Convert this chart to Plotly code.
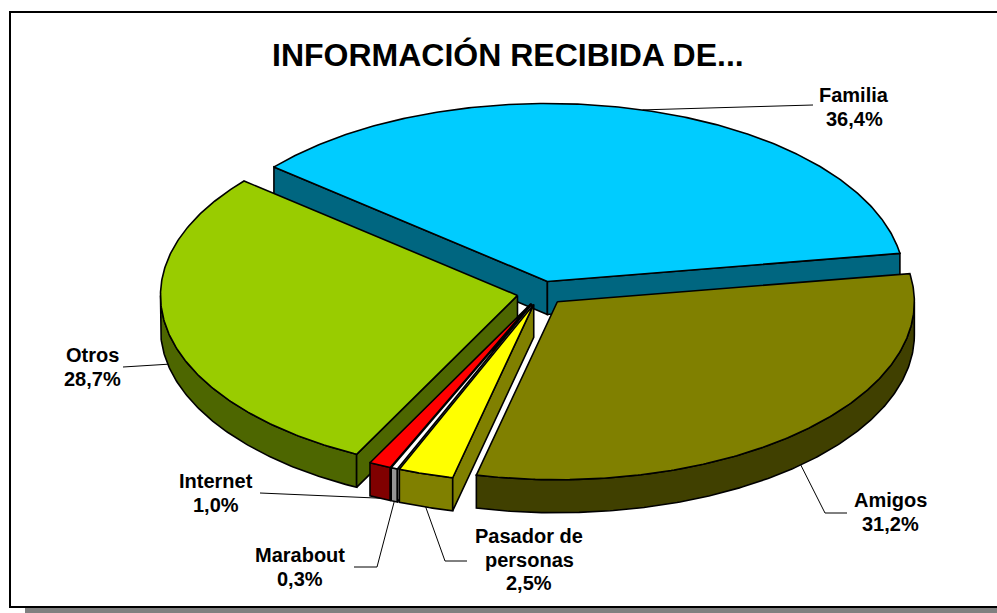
import numpy as np
import plotly.graph_objects as go

# ---------------- data ----------------
labels = ["Familia", "Amigos", "Pasador de personas", "Marabout", "Internet", "Otros"]
values = [36.4, 31.2, 2.5, 0.3, 1.0, 28.7]
label_lines = [["Familia", "36,4%"], ["Amigos", "31,2%"], ["Pasador de", "personas", "2,5%"],
               ["Marabout", "0,3%"], ["Internet", "1,0%"], ["Otros", "28,7%"]]
title_text = "INFORMACIÓN RECIBIDA DE..."

# ---------------- style / layout ----------------
top_colors = ["#00CCFF", "#808000", "#FFFF00", "#FFFFFF", "#FF0000", "#99CC00"]
side_colors = ["#006680", "#404000", "#808000", "#969696", "#800000", "#4D6600"]
draw_order = [0, 5, 4, 3, 2, 1]

W, H = 997, 613
CX, CY = 541, 293          # pie centre (pixels)
RX, RY = 357, 178          # ellipse radii of top face
DEPTH = 33                 # thickness of the pie
EXPLODE = 24               # explosion distance (horizontal pixels)
START = 310                # first slice angle, deg clockwise from 12 o'clock
K = RY / RX
LINE_STEP = 23.5

# label placement (x centre, y centre of first line) and leader-line bends
label_pos = {
    "Familia": (854, 95, [(792, 105), (813, 105)]),
    "Amigos": (890, 500, [(825, 513), (847, 513)]),
    "Pasador de personas": (529, 536, [(445, 561), (467, 561)]),
    "Marabout": (300, 555, [(377, 567), (354, 567)]),
    "Internet": (216, 481, [(260, 493)]),
    "Otros": (92, 355, [(123, 367)]),
}

fig = go.Figure()


def rad(d):
    return np.deg2rad(d)


def pts(apex, th, dz=0.0):
    th = np.atleast_1d(np.asarray(th, dtype=float))
    x = apex[0] + RX * np.sin(rad(th))
    y = apex[1] - RY * np.cos(rad(th)) + dz
    return list(x), list(y)


def poly(xs, ys, fill):
    fig.add_trace(go.Scatter(x=xs + [xs[0]], y=ys + [ys[0]], mode="lines", fill="toself",
                             fillcolor=fill, line=dict(color="black", width=1.6),
                             hoverinfo="skip", showlegend=False))


total = sum(values)
spans = [v / total * 360.0 for v in values]
starts = []
a = START
for s in spans:
    starts.append(a)
    a += s

geo = []
for i in range(len(values)):
    th_s = starts[i]
    th_e = th_s + spans[i]
    mid = (th_s + th_e) / 2
    apex = (CX + EXPLODE * np.sin(rad(mid)), CY - EXPLODE * K * np.cos(rad(mid)))
    geo.append((th_s, th_e, mid, apex))

for i in draw_order:
    th_s, th_e, mid, apex = geo[i]
    # outer (front) wall: visible for angles in (90, 270) mod 360
    for off in (0, 360, -360):
        lo = max(th_s, 90 + off)
        hi = min(th_e, 270 + off)
        if hi > lo:
            n = max(3, int((hi - lo) * 2))
            th = np.linspace(lo, hi, n)
            tx, ty = pts(apex, th)
            bx, by = pts(apex, th[::-1], DEPTH)
            poly(tx + bx, ty + by, side_colors[i])
    # radial walls
    for th, vis in ((th_s, np.sin(rad(th_s)) < 0), (th_e, np.sin(rad(th_e)) > 0)):
        if vis:
            rx_, ry_ = pts(apex, th)
            xs = [apex[0], rx_[0], rx_[0], apex[0]]
            ys = [apex[1], ry_[0], ry_[0] + DEPTH, apex[1] + DEPTH]
            poly(xs, ys, side_colors[i])
    # top face
    n = max(3, int(spans[i] * 2))
    th = np.linspace(th_s, th_e, n)
    tx, ty = pts(apex, th)
    poly([apex[0]] + tx, [apex[1]] + ty, top_colors[i])

# leader lines + labels
font_lbl = dict(family="Liberation Sans, Arial, sans-serif", size=20, color="black", weight="bold")
for i, name in enumerate(labels):
    th_s, th_e, mid, apex = geo[i]
    m = mid % 360
    dz = DEPTH if 90 < m < 270 else 0
    sx, sy = pts(apex, mid, dz)
    lx, ly, bends = label_pos[name]
    xs = [sx[0]] + [b[0] for b in bends]
    ys = [sy[0]] + [b[1] for b in bends]
    fig.add_trace(go.Scatter(x=xs, y=ys, mode="lines", line=dict(color="black", width=1),
                             hoverinfo="skip", showlegend=False))
    for j, line in enumerate(label_lines[i]):
        fig.add_annotation(x=lx, y=ly + j * LINE_STEP, text=line, showarrow=False,
                           xref="x", yref="y", xanchor="center", yanchor="middle",
                           font=font_lbl)

fig.add_annotation(x=508, y=55, text=title_text, showarrow=False, xref="x", yref="y",
                   xanchor="center", yanchor="middle",
                   font=dict(family="Liberation Sans, Arial, sans-serif",
                             size=32, color="black", weight="bold"))

# chart frame and its shadow
fig.add_shape(type="rect", xref="x", yref="y", x0=25, x1=1010, y0=608, y1=620,
              fillcolor="#808080", line=dict(width=0), layer="below")
fig.add_shape(type="rect", xref="x", yref="y", x0=10, x1=1010, y0=12, y1=607,
              fillcolor="white", line=dict(color="black", width=2), layer="below")

fig.update_layout(
    width=W, height=H, autosize=False,
    margin=dict(l=0, r=0, t=0, b=0, pad=0),
    paper_bgcolor="white", plot_bgcolor="white",
    xaxis=dict(range=[0, W], visible=False, fixedrange=True),
    yaxis=dict(range=[H, 0], visible=False, fixedrange=True),
    showlegend=False, hovermode=False,
)

fig.write_html("out.html", config={"displayModeBar": False, "staticPlot": True},
               post_script="document.body.style.margin='0';document.body.style.overflow='hidden';")
